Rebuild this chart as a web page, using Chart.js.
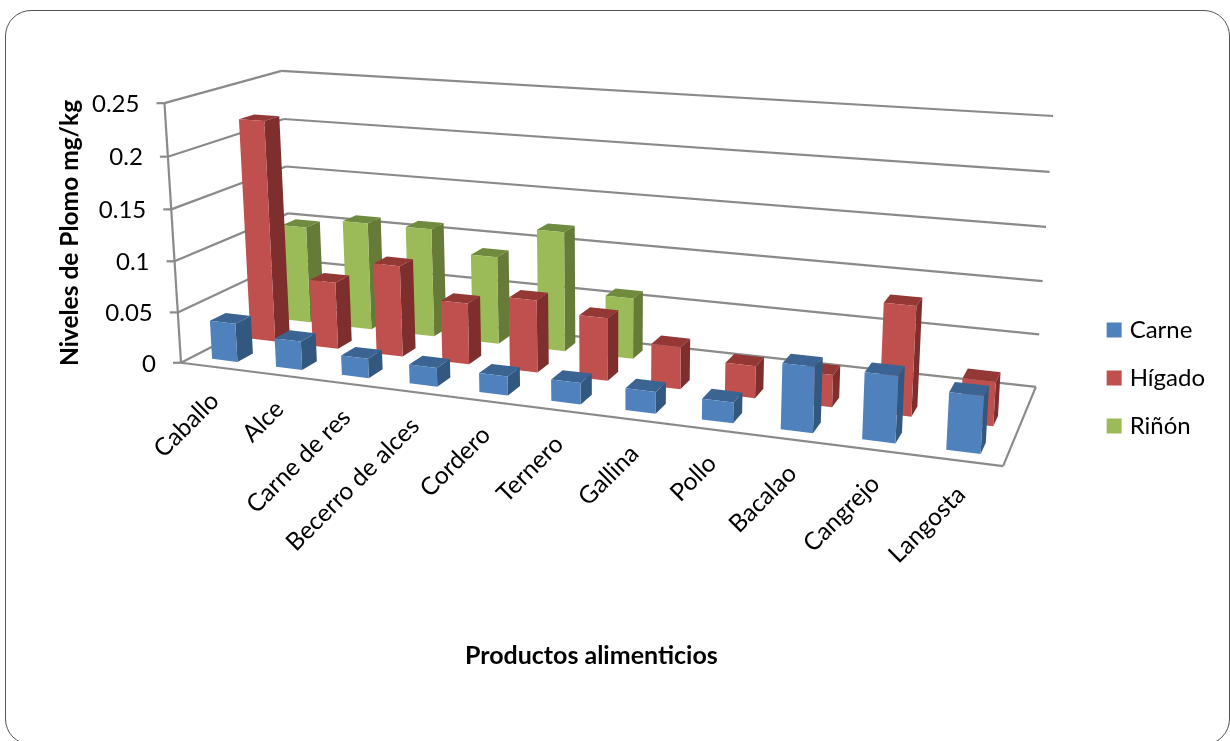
<!DOCTYPE html>
<html>
<head>
<meta charset="utf-8">
<title>Niveles de Plomo</title>
<script src="https://cdn.jsdelivr.net/npm/chart.js@4"></script>
<style>
  html, body { margin: 0; padding: 0; background: #fff; overflow: hidden; }
  #marco { position: absolute; left: 5px; top: 10px; width: 1225px; height: 735px; box-sizing: border-box;
           border: 1.5px solid #555; border-radius: 26px; }
  canvas { position: absolute; left: 0; top: 0; }
</style>
</head>
<body>
<div id="marco"></div>
<canvas id="grafica" width="1230" height="741"></canvas>
<script>
const categorias = ["Caballo", "Alce", "Carne de res", "Becerro de alces", "Cordero", "Ternero", "Gallina", "Pollo", "Bacalao", "Cangrejo", "Langosta"];
const carne = [0.038, 0.028, 0.019, 0.018, 0.018, 0.02, 0.02, 0.019, 0.059, 0.059, 0.05];
const higado = [0.221, 0.067, 0.09, 0.06, 0.07, 0.06, 0.04, 0.03, 0.03, 0.1, 0.04];
const rinon = [0.1, 0.11, 0.11, 0.088, 0.119, 0.06, null, null, null, null, null];
const colores = ["#4F81BD", "#C0504D", "#9BBB59"];
const coloresLado = ["#33587F", "#7E2F2D", "#677B39"];
const coloresTapa = ["#3C6492", "#943836", "#6F8B3E"];

// Calibración de la caja 3D: [x, valor, fondo] -> pixel
const esquinas = [
  [[0, 0, 0], [181.5, 363]],
  [[0, 1, 0], [164, 103]],
  [[0, 1, 1], [282, 71]],
  [[0, 0, 1], [292, 305]],
  [[1, 0, 0], [1003, 466]],
  [[1, 0, 1], [1036, 387]],
  [[1, 1, 1], [1053, 116]]
];

function resolver(A, b) {
  const n = b.length;
  for (let i = 0; i < n; i++) {
    let p = i;
    for (let f = i + 1; f < n; f++) if (Math.abs(A[f][i]) > Math.abs(A[p][i])) p = f;
    [A[i], A[p]] = [A[p], A[i]];
    [b[i], b[p]] = [b[p], b[i]];
    for (let f = i + 1; f < n; f++) {
      const m = A[f][i] / A[i][i];
      for (let c = i; c < n; c++) A[f][c] -= m * A[i][c];
      b[f] -= m * b[i];
    }
  }
  const x = new Array(n).fill(0);
  for (let i = n - 1; i >= 0; i--) {
    let s = b[i];
    for (let c = i + 1; c < n; c++) s -= A[i][c] * x[c];
    x[i] = s / A[i][i];
  }
  return x;
}

function calibrar() {
  const filas = [], der = [];
  esquinas.forEach(([[X, V, Z], [u, v]]) => {
    u /= 1000; v /= 1000;
    filas.push([X, V, Z, 1, 0, 0, 0, 0, -u * X, -u * V, -u * Z]); der.push(u);
    filas.push([0, 0, 0, 0, X, V, Z, 1, -v * X, -v * V, -v * Z]); der.push(v);
  });
  const AtA = [], Atb = [];
  for (let i = 0; i < 11; i++) {
    AtA.push([]);
    Atb.push(filas.reduce((s, f, k) => s + f[i] * der[k], 0));
    for (let j = 0; j < 11; j++) AtA[i].push(filas.reduce((s, f) => s + f[i] * f[j], 0));
  }
  return resolver(AtA, Atb);
}

const P = calibrar();
function proyectar(X, V, Z) {
  const w = P[8] * X + P[9] * V + P[10] * Z + 1;
  return [
    1000 * (P[0] * X + P[1] * V + P[2] * Z + P[3]) / w,
    1000 * (P[4] * X + P[5] * V + P[6] * Z + P[7]) / w
  ];
}

function linea(ctx, a, b) {
  ctx.beginPath();
  ctx.moveTo(a[0], a[1]);
  ctx.lineTo(b[0], b[1]);
  ctx.stroke();
}

function cara(ctx, puntos, color) {
  ctx.fillStyle = color;
  ctx.beginPath();
  puntos.forEach((p, i) => i ? ctx.lineTo(p[0], p[1]) : ctx.moveTo(p[0], p[1]));
  ctx.closePath();
  ctx.fill();
}

// Dibuja la caja, los ejes y las barras en perspectiva a partir de las escalas de Chart.js
const perspectiva = {
  id: "perspectiva",
  beforeDatasetsDraw(chart) {
    const ctx = chart.ctx;
    const area = chart.chartArea;
    const escalaY = chart.scales.y;
    const escalaX = chart.scales.x;
    const nx = px => (px - area.left) / area.width;
    const nv = py => (area.bottom - py) / area.height;

    ctx.save();
    // paredes y piso
    ctx.strokeStyle = "#8A8A8A";
    ctx.lineWidth = 2.2;
    ctx.lineCap = "butt";
    escalaY.ticks.forEach(t => {
      const v = nv(escalaY.getPixelForValue(t.value));
      const a = proyectar(0, v, 0);
      linea(ctx, [a[0] - 8, a[1]], a);
      linea(ctx, a, proyectar(0, v, 1));
      linea(ctx, proyectar(0, v, 1), proyectar(1, v, 1));
    });
    linea(ctx, proyectar(0, 0, 0), proyectar(0, 1, 0));
    linea(ctx, proyectar(0, 0, 0), proyectar(1, 0, 0));
    linea(ctx, proyectar(1, 0, 0), proyectar(1, 0, 1));

    // barras, de atrás hacia adelante
    const total = chart.data.datasets.length;
    const prof = 0.4 / total;
    for (let d = total - 1; d >= 0; d--) {
      const zc = (d + 0.5) / total;
      const z0 = zc - prof / 2, z1 = zc + prof / 2;
      chart.getDatasetMeta(d).data.forEach((barra, i) => {
        if (chart.data.datasets[d].data[i] === null) return;
        const x0 = nx(barra.x - barra.width / 2), x1 = nx(barra.x + barra.width / 2);
        const v0 = nv(barra.base), v1 = nv(barra.y);
        cara(ctx, [proyectar(x0, v1, z0), proyectar(x1, v1, z0), proyectar(x1, v1, z1), proyectar(x0, v1, z1)], coloresTapa[d]);
        cara(ctx, [proyectar(x1, v0, z0), proyectar(x1, v1, z0), proyectar(x1, v1, z1), proyectar(x1, v0, z1)], coloresLado[d]);
        cara(ctx, [proyectar(x0, v0, z0), proyectar(x1, v0, z0), proyectar(x1, v1, z0), proyectar(x0, v1, z0)], colores[d]);
      });
    }

    // textos de los ejes
    ctx.fillStyle = "#000";
    ctx.font = "24px Lato";
    ctx.textAlign = "right";
    ctx.textBaseline = "middle";
    escalaY.ticks.forEach(t => {
      const a = proyectar(0, nv(escalaY.getPixelForValue(t.value)), 0);
      ctx.fillText(String(+t.value.toFixed(2)), a[0] - 25, a[1] + 1);
    });
    ctx.font = "24.5px Lato";
    categorias.forEach((c, i) => {
      const a = proyectar(nx(escalaX.getPixelForValue(i)), 0, 0);
      ctx.save();
      ctx.translate(a[0] + 2, a[1] + 30);
      ctx.rotate(-Math.PI / 4);
      ctx.fillText(c, 0, 0);
      ctx.restore();
    });
    ctx.font = "bold 24.5px Lato";
    ctx.textAlign = "center";
    ctx.save();
    ctx.translate(70, 233);
    ctx.rotate(-Math.PI / 2);
    ctx.fillText("Niveles de Plomo mg/kg", 0, 0);
    ctx.restore();
    ctx.restore();
    return false; // las barras planas no se pintan
  }
};

new Chart(document.getElementById("grafica"), {
  type: "bar",
  data: {
    labels: categorias,
    datasets: [
      // el borde grueso completa el cuadro de la leyenda
      { label: "Carne", data: carne, backgroundColor: colores[0], borderColor: colores[0], borderWidth: 8 },
      { label: "Hígado", data: higado, backgroundColor: colores[1], borderColor: colores[1], borderWidth: 8 },
      { label: "Riñón", data: rinon, backgroundColor: colores[2], borderColor: colores[2], borderWidth: 8 }
    ]
  },
  options: {
    responsive: false,
    animation: false,
    layout: { padding: { top: 15, right: 15, left: 96 } },
    datasets: { bar: { grouped: false, categoryPercentage: 1, barPercentage: 0.4 } },
    plugins: {
      legend: {
        position: "right",
        labels: { boxWidth: 7, boxHeight: 7, padding: 24, color: "#000", font: { family: "Lato", size: 24 } }
      },
      title: {
        display: true,
        fullSize: false,
        text: "Productos alimenticios",
        position: "bottom",
        color: "#000",
        font: { family: "Lato", size: 25, weight: "bold" },
        padding: { top: 10, bottom: 70 }
      },
      tooltip: { enabled: false }
    },
    scales: {
      x: { display: false },
      y: {
        display: false,
        min: 0,
        max: 0.25,
        ticks: { stepSize: 0.05 }
      }
    }
  },
  plugins: [perspectiva]
});
</script>
</body>
</html>
